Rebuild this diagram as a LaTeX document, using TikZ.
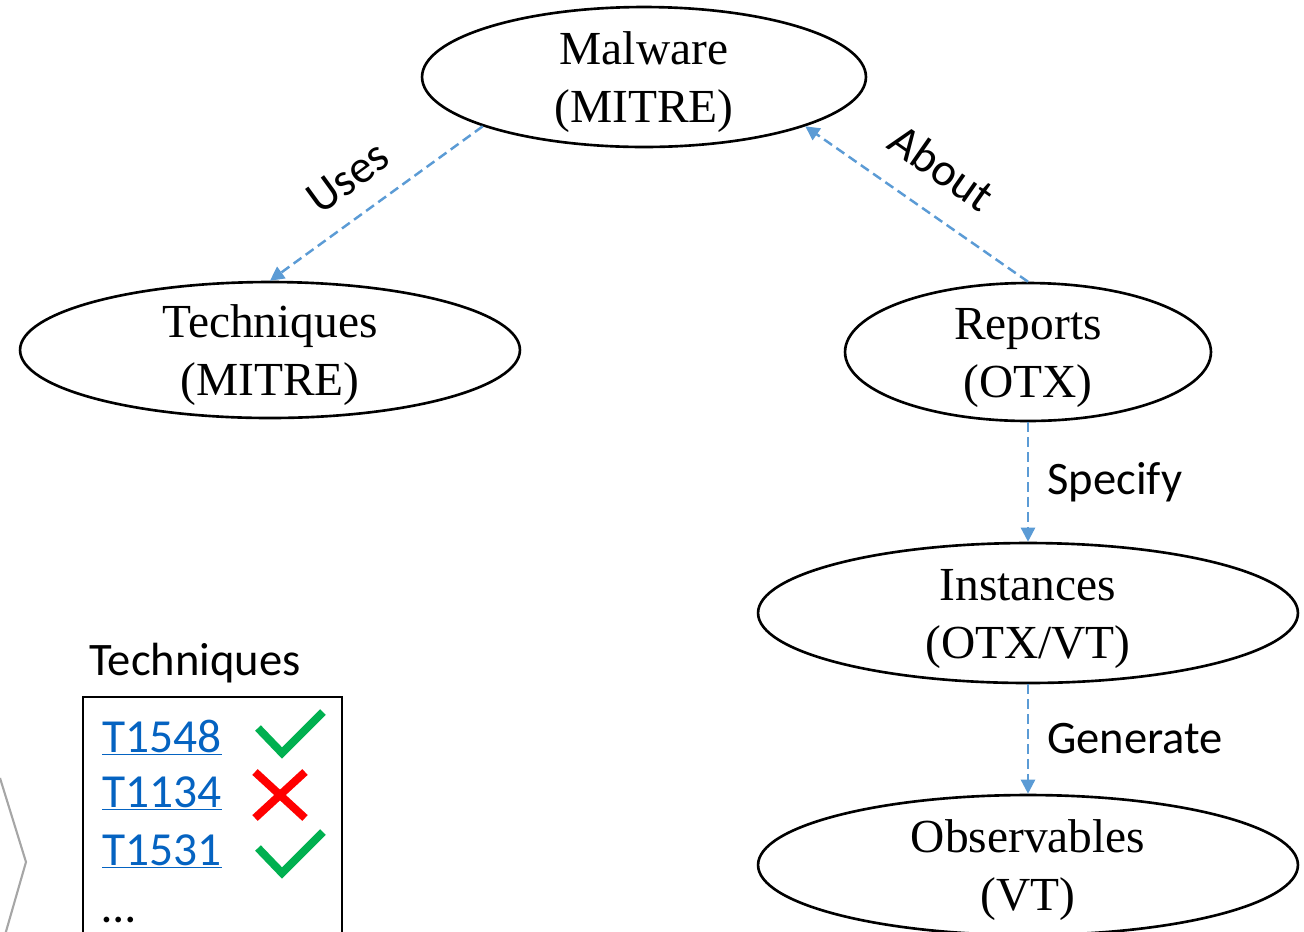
\documentclass[tikz,border=0pt]{standalone}
\usepackage{fontspec}
\setmainfont{Liberation Serif}
\newfontfamily\calibri{Carlito}
\usepackage{tikz}
\usetikzlibrary{%
	calc,%
	arrows.meta,%
	shapes
}

\definecolor{edgeblue}{HTML}{5B9BD5}
\definecolor{linkblue}{HTML}{0563C1}
\definecolor{okgreen}{HTML}{00B050}
\definecolor{badred}{HTML}{FF0000}

\newcommand{\toprule}{\rule{0pt}{25pt}}

\tikzset{
	entity/.style={draw, ellipse, line width=1.5pt, inner sep=0pt, inner ysep=-9pt, align=center, font=\fontsize{27}{33}\selectfont},
	rel/.style={edgeblue, line width=1.4pt, dash pattern=on 5.5pt off 3pt, -{Triangle[length=8pt,width=8pt]}},
	rellabel/.style={text=black, font=\calibri\fontsize{26.5}{30}\selectfont},
	techid/.style={anchor=base west, inner sep=0pt, text=linkblue, font=\calibri\fontsize{27}{30}\selectfont},
	tick/.style={okgreen, line width=4.5pt},
	cross/.style={badred, line width=4.5pt}
}

\begin{document}
\begin{tikzpicture}[x=0.02cm, y=-0.02cm]
			\useasboundingbox (0,0) rectangle (1304,931);
			
			% entities
			\node[entity, minimum width=8.88cm, minimum height=2.8cm] (malware) at (644,77) {\toprule Malware\\(MITRE)};
			\node[entity, minimum width=10cm, minimum height=2.72cm] (techniques) at (270,350) {\toprule Techniques\\(MITRE)};
			\node[entity, minimum width=7.32cm, minimum height=2.76cm] (reports) at (1028,352) {\toprule Reports\\(OTX)};
			\node[entity, minimum width=10.8cm, minimum height=2.8cm] (instances) at (1028,613) {\toprule Instances\\(OTX/VT)};
			\node[entity, minimum width=10.8cm, minimum height=2.8cm] (observables) at (1028,865) {\toprule Observables\\(VT)};
			
			% relations
			\draw[rel] (malware.197) -- node[rellabel, sloped, above=9pt, pos=0.53] {Uses} (techniques.north);
			\draw[rel] (reports.north) -- node[rellabel, sloped, above=12pt, pos=0.5] {About} (malware.-17);
			\draw[rel] (reports.south) -- node[rellabel, right=7pt] {Specify} (instances.north);
			\draw[rel] (instances.south) -- node[rellabel, right=7pt] {Generate} (observables.north);
			
			% technique list
			\node[rellabel, anchor=base] (listhead) at (195,675) {Techniques};
			\draw[line width=1.2pt] (83,697) rectangle (342,945);
			\node[techid] (ta) at (102,752) {\underline{T1548}};
			\node[techid] (tb) at (102,807) {\underline{T1134}};
			\node[techid] (tc) at (102,865) {\underline{T1531}};
			\node[techid, text=black] (tmore) at (102,922) {…};
			
			\draw[tick] (258,728) -- (282,753) -- (323,712);
			\draw[cross] (255,772) -- (305,818);
			\draw[cross] (305,772) -- (255,818);
			\draw[tick] (258,848) -- (282,873) -- (323,832);
			
			% chevron at the edge
			\draw[black!35, line width=1.2pt] (0,778) -- (26,862) -- (5,935);
		\end{tikzpicture}
\end{document}
